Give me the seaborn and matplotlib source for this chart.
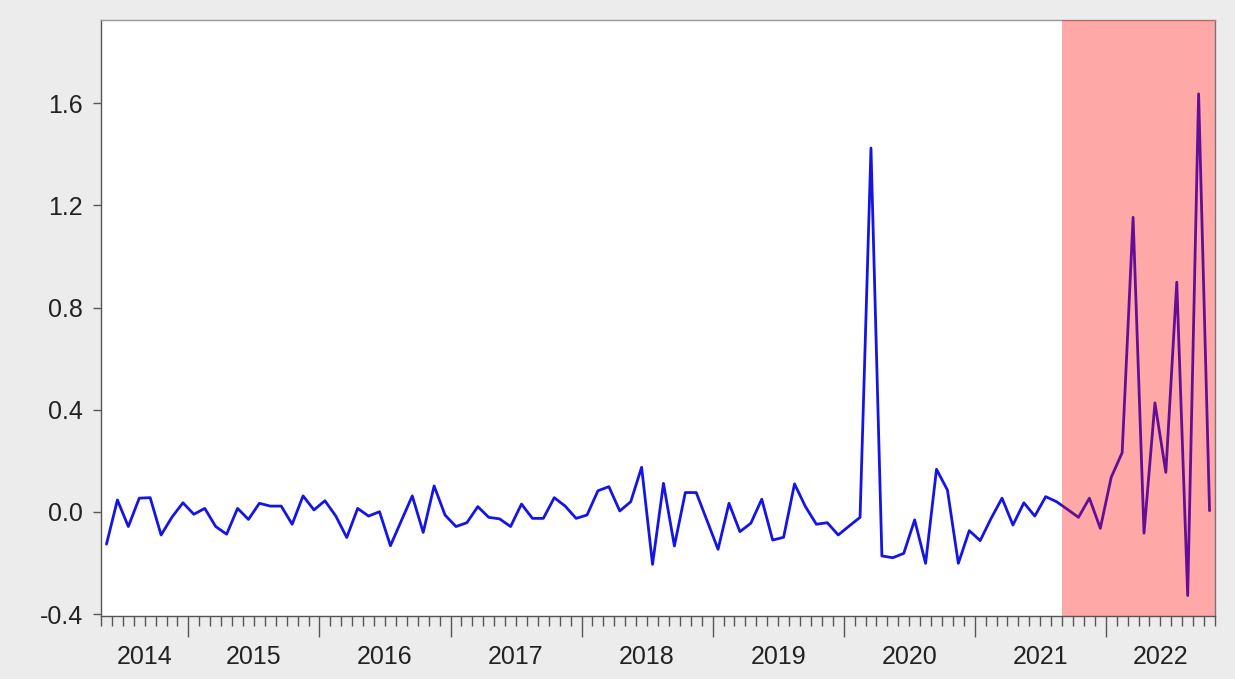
# plot.py
# monthly series 2014M05-2022M10, EViews-style line chart with shaded tail

import numpy as np
import pandas as pd
import matplotlib
matplotlib.use("Agg")
import matplotlib.pyplot as plt
import matplotlib.transforms as mtransforms
from matplotlib.ticker import FixedLocator, FormatStrFormatter
import seaborn as sns

# ---------- DATA ----------
START = "2014-05"
SHADE_START = "2021-09"

vals_2014 = [-0.126, 0.047, -0.057, 0.054, 0.056, -0.090, -0.020, 0.036]
vals_2015 = [-0.009, 0.014, -0.057, -0.087, 0.014, -0.029, 0.034, 0.023, 0.023, -0.048, 0.063, 0.008]
vals_2016 = [0.044, -0.016, -0.100, 0.014, -0.016, 0.001, -0.132, -0.034, 0.063, -0.080, 0.102, -0.012]
vals_2017 = [-0.057, -0.042, 0.021, -0.021, -0.027, -0.057, 0.031, -0.025, -0.025, 0.056, 0.023, -0.025]
vals_2018 = [-0.012, 0.083, 0.099, 0.004, 0.040, 0.175, -0.205, 0.112, -0.133, 0.076, 0.076, -0.035]
vals_2019 = [-0.146, 0.034, -0.077, -0.044, 0.050, -0.110, -0.099, 0.110, 0.021, -0.048, -0.042, -0.090]
vals_2020 = [-0.055, -0.021, 1.424, -0.172, -0.179, -0.162, -0.031, -0.201, 0.167, 0.086, -0.201, -0.073]
vals_2021 = [-0.112, -0.025, 0.054, -0.051, 0.036, -0.016, 0.060, 0.040, 0.010, -0.021, 0.054, -0.064]
vals_2022 = [0.136, 0.232, 1.153, -0.083, 0.427, 0.155, 0.899, -0.327, 1.636, 0.005]

values = (vals_2014 + vals_2015 + vals_2016 + vals_2017 + vals_2018
          + vals_2019 + vals_2020 + vals_2021 + vals_2022)
yticks = [-0.4, 0.0, 0.4, 0.8, 1.2, 1.6]

# ---------- FRAME ----------
dates = pd.date_range(START, periods=len(values), freq="MS")
# decimal year, each observation at the middle of its month
xpos = dates.year + (dates.month - 0.5) / 12
df = pd.DataFrame({"x": xpos, "y": values})

x_lo = dates[0].year + (dates[0].month - 1) / 12
x_hi = dates[-1].year + dates[-1].month / 12
shade = pd.Timestamp(SHADE_START)
shade_lo = shade.year + (shade.month - 1) / 12

# ---------- PLOT ----------
sns.set_style("white")
plt.rcParams["font.family"] = ["Liberation Sans", "DejaVu Sans"]

fig = plt.figure(figsize=(12.35, 6.79), dpi=100, facecolor="#ececec")
ax = fig.add_axes([0.0818, 0.0928, 0.9020, 0.8777])
ax.set_facecolor("white")

sns.lineplot(data=df, x="x", y="y", ax=ax, color="#1414e6", linewidth=2.0, zorder=2)
ax.axvspan(shade_lo, x_hi, color="#ff0000", alpha=0.34, lw=0, zorder=3)

ax.set_xlim(x_lo, x_hi)
ax.set_ylim(-0.407, 1.925)
ax.set_xlabel("")
ax.set_ylabel("")

# y axis
ax.set_yticks(yticks)
ax.yaxis.set_major_formatter(FormatStrFormatter("%.1f"))
ax.tick_params(axis="y", direction="out", length=6, width=1, color="#555555",
               labelsize=18, labelcolor="#222222", pad=7, left=True)

# x axis: long ticks at year starts, short ticks each month, labels mid-year
years = list(range(int(np.ceil(x_lo)), int(np.floor(x_hi)) + 1))
months = [m / 12 for m in range(int(np.ceil(x_lo * 12)), int(np.floor(x_hi * 12)) + 1)]
ax.xaxis.set_major_locator(FixedLocator(years))
ax.xaxis.set_minor_locator(FixedLocator(months))
ax.set_xticklabels([])
ax.tick_params(axis="x", which="major", direction="out", length=15, width=1,
               color="#555555", bottom=True)
ax.tick_params(axis="x", which="minor", direction="out", length=7, width=1,
               color="#555555", bottom=True)

trans = mtransforms.blended_transform_factory(ax.transData, ax.transAxes)
for yr in range(int(np.floor(x_lo)), int(np.floor(x_hi)) + 1):
    a = max(yr, x_lo)
    b = min(yr + 1, x_hi)
    ax.text((a + b) / 2, -0.068, str(yr), transform=trans, ha="center", va="center",
            fontsize=18, color="#222222")

for side in ["left", "bottom", "top", "right"]:
    ax.spines[side].set_visible(True)
    ax.spines[side].set_color("#555555")
    ax.spines[side].set_linewidth(1)
ax.spines["top"].set_color("#999999")
ax.spines["right"].set_color("#777777")

fig.savefig("out.png", dpi=100, facecolor=fig.get_facecolor())
